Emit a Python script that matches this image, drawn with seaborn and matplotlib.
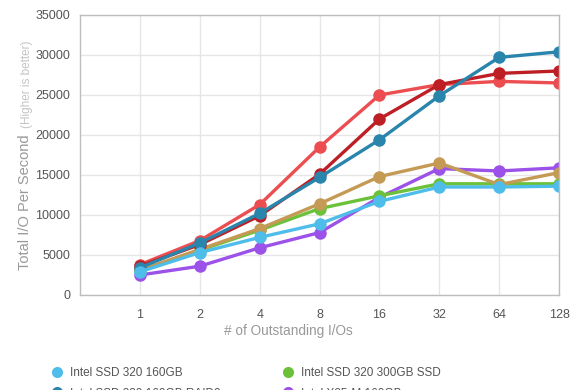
import pandas as pd
import matplotlib
matplotlib.use("Agg")
import matplotlib.pyplot as plt
from matplotlib.lines import Line2D
import seaborn as sns

# outstanding I/Os (x axis)
queue_depth = [1, 2, 4, 8, 16, 32, 64, 128]

# total I/O per second
ssd320_160 = [2900, 5300, 7200, 8900, 11700, 13500, 13500, 13600]
ssd320_300 = [3000, 5600, 8100, 10800, 12400, 13900, 13900, 13900]
ssd320_160_raid0 = [3400, 6500, 10200, 14700, 19400, 24900, 29700, 30400]
x25m_160 = [2500, 3600, 5900, 7800, 12200, 15800, 15500, 15900]
red_series = [3800, 6800, 11300, 18500, 25000, 26300, 26700, 26500]
darkred_series = [3600, 6300, 9900, 15100, 22000, 26300, 27700, 28000]
tan_series = [3100, 5700, 8300, 11400, 14800, 16500, 13800, 15300]

series = {
    "X25-M 160GB": x25m_160,
    "SSD 320 300GB": ssd320_300,
    "tan": tan_series,
    "red": red_series,
    "darkred": darkred_series,
    "SSD 320 160GB RAID0": ssd320_160_raid0,
    "SSD 320 160GB": ssd320_160,
}
colors = {
    "SSD 320 160GB": "#4fbdea",
    "SSD 320 300GB": "#6cc13b",
    "SSD 320 160GB RAID0": "#2a85ad",
    "X25-M 160GB": "#9c51e8",
    "red": "#ec4d50",
    "darkred": "#bd1f25",
    "tan": "#c49a55",
}

rows = []
for name, vals in series.items():
    for q, v in zip(queue_depth, vals):
        rows.append({"q": q, "iops": v, "drive": name})
df = pd.DataFrame(rows)

sns.set_style("white")
plt.rcParams["font.family"] = ["Liberation Sans", "DejaVu Sans"]

fig = plt.figure(figsize=(5.8, 3.9), dpi=100)
ax = fig.add_axes([0.138, 0.2436, 0.826, 0.718])

sns.lineplot(data=df, x="q", y="iops", hue="drive", palette=colors,
             hue_order=list(series.keys()), marker="o", markersize=9,
             markeredgewidth=0, linewidth=2.4, legend=False, ax=ax)

ax.set_xscale("log", base=2)
ax.set_xlim(0.5, 128)
ax.set_xticks(queue_depth)
ax.set_xticklabels([str(q) for q in queue_depth])
ax.set_ylim(0, 35000)
ax.set_yticks(range(0, 35001, 5000))
ax.minorticks_off()
ax.grid(True, color="#e6e6e6", linewidth=1)
ax.set_axisbelow(True)
for s in ax.spines.values():
    s.set_color("#bdbdbd")
    s.set_linewidth(1)
ax.tick_params(length=0, labelsize=9, labelcolor="#555555")
ax.tick_params(axis="x", pad=10)
ax.tick_params(axis="y", pad=7)
ax.set_xlabel("")
ax.set_ylabel("")

fig.text(0.497, 0.151, "# of Outstanding I/Os", ha="center", va="center",
         fontsize=9.8, color="#999999")
fig.text(0.043, 0.308, "Total I/O Per Second", rotation=90, ha="center",
         va="bottom", fontsize=10.5, color="#999999")
fig.text(0.047, 0.672, "(Higher is better)", rotation=90, ha="center",
         va="bottom", fontsize=8.5, color="#c4c4c4")

legend_names = ["Intel SSD 320 160GB", "Intel SSD 320 160GB RAID0",
                "Intel SSD 320 300GB SSD", "Intel X25-M 160GB"]
legend_keys = ["SSD 320 160GB", "SSD 320 160GB RAID0",
               "SSD 320 300GB", "X25-M 160GB"]
handles = [Line2D([], [], linestyle="none", marker="o", markersize=8,
                  markeredgewidth=0, color=colors[k]) for k in legend_keys]
fig.legend(handles, legend_names, ncol=2, frameon=False,
           loc="upper left", bbox_to_anchor=(0.070, 0.087),
           fontsize=8.5, labelcolor="#555555", handletextpad=0.6,
           handlelength=1.0, columnspacing=5.2, labelspacing=0.75)

fig.savefig("out.png", dpi=100)
